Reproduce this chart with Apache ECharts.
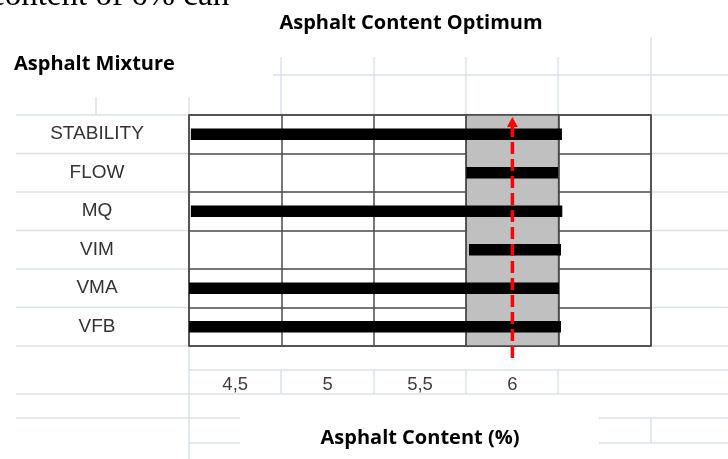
<!DOCTYPE html>
<html><head><meta charset="utf-8">
<script src="https://cdn.jsdelivr.net/npm/echarts@6/dist/echarts.min.js"></script>
<style>html,body{margin:0;padding:0;background:#fff}#c{width:728px;height:459px}</style>
</head><body><div id="c"></div>
<script>
// ---- data ----
const categories = ['STABILITY', 'FLOW', 'MQ', 'VIM', 'VMA', 'VFB'];
const rangeStart = [4.26, 5.75, 4.26, 5.765, 4.25, 4.25];
const rangeEnd   = [6.268, 6.247, 6.27, 6.263, 6.252, 6.263];
const tickLabels = ['4,5', '5', '5,5', '6', ''];
const optimumContent = 6.0;
const optimumBand = [5.75, 6.25];
const axisMin = 4.25, axisMax = 6.75, axisStep = 0.5;

// ---- decoration ----
const bg = '#dbe1ec';
function L(x1, y1, x2, y2) {
  return { type: 'line', z: -5, silent: true, shape: { x1, y1, x2, y2 }, style: { stroke: bg, lineWidth: 1.5 } };
}
const rowYs = [115, 153.5, 192, 230.5, 269, 307.5, 346];
const bgLines = [
  L(273, 75, 728, 75),
  L(189, 370, 728, 370),
  L(16, 394, 728, 394),
  L(16, 418, 240, 418), L(599, 418, 728, 418),
  L(189, 443, 240, 443), L(599, 443, 728, 443),
  L(96, 97, 96, 115), L(189, 97, 189, 115), L(189, 346, 189, 459),
  L(281, 57, 281, 115), L(374, 57, 374, 115), L(466, 57, 466, 115), L(558, 57, 558, 115),
  L(651, 37, 651, 115),
  L(281, 370, 281, 394), L(374, 370, 374, 394), L(466, 370, 466, 394), L(558, 370, 558, 394),
  L(651, 418, 651, 443)
];
rowYs.forEach(y => { bgLines.push(L(16, y, 189, y)); bgLines.push(L(651, y, 728, y)); });

const dark = '#4a4a4a';
const chart = echarts.init(document.getElementById('c'), null, { renderer: 'canvas' });
chart.setOption({
  animation: false,
  backgroundColor: '#fff',
  grid: { left: 189, top: 115, width: 462, height: 231, show: true, borderColor: dark, borderWidth: 1.5, backgroundColor: 'transparent' },
  xAxis: [
    { type: 'value', min: axisMin, max: axisMax, interval: axisStep,
      axisLine: { show: false }, axisTick: { show: false }, axisLabel: { show: false },
      splitLine: { show: true, lineStyle: { color: dark, width: 1.5 } } },
    { type: 'category', data: tickLabels, position: 'bottom', boundaryGap: true,
      axisLine: { show: false }, axisTick: { show: false }, splitLine: { show: false },
      axisLabel: { margin: 29, fontSize: 18.5, color: '#404040', fontFamily: '"Liberation Sans", Arial, sans-serif' } }
  ],
  yAxis: {
    type: 'category', data: categories, inverse: true,
    axisLine: { show: false }, axisTick: { show: false },
    axisLabel: { margin: 92, align: 'center', fontSize: 19, color: '#333', fontFamily: '"Liberation Sans", Arial, sans-serif' },
    splitLine: { show: true, interval: 0, lineStyle: { color: dark, width: 1.5 } }
  },
  graphic: bgLines.concat([
    { type: 'text', x: -10, y: -3.5, silent: true, style: { text: 'content of 6% can', font: '33px "Liberation Serif", serif', fill: '#000', verticalAlign: 'middle', align: 'left' } },
    { type: 'text', x: 411, y: 23, silent: true, style: { text: 'Asphalt Content Optimum', font: 'bold 20px "Open Sans", sans-serif', fill: '#000', verticalAlign: 'middle', align: 'center' } },
    { type: 'text', x: 14, y: 64, silent: true, style: { text: 'Asphalt Mixture', font: 'bold 20px "Open Sans", sans-serif', fill: '#000', verticalAlign: 'middle', align: 'left' } },
    { type: 'text', x: 420, y: 438, silent: true, style: { text: 'Asphalt Content (%)', font: 'bold 20px "Open Sans", sans-serif', fill: '#000', verticalAlign: 'middle', align: 'center' } }
  ]),
  series: [
    { type: 'custom', name: 'band', xAxisIndex: 0, yAxisIndex: 0, z: 1,
      data: [], renderItem: () => null,
      markArea: { silent: true, itemStyle: { color: '#c0c0c0', borderColor: dark, borderWidth: 1.5 },
        data: [[{ xAxis: optimumBand[0] }, { xAxis: optimumBand[1] }]] } },
    { type: 'custom', name: 'ranges', xAxisIndex: 0, yAxisIndex: 0, z: 5,
      data: categories.map((c, i) => [rangeStart[i], rangeEnd[i], i]),
      encode: { x: [0, 1], y: 2 },
      renderItem(params, api) {
        const yi = api.value(2);
        const p0 = api.coord([api.value(0), yi]);
        const p1 = api.coord([api.value(1), yi]);
        const h = 11.5;
        return { type: 'rect', shape: { x: p0[0], y: p0[1] - h / 2, width: p1[0] - p0[0], height: h }, style: { fill: '#000' } };
      } },
    { type: 'custom', name: 'optimum', xAxisIndex: 0, yAxisIndex: 0, z: 10, clip: false,
      data: [[optimumContent, 0]],
      encode: { x: 0, y: 1 },
      renderItem(params, api) {
        const v = api.value(0);
        const pTop = api.coord([v, 0]);
        const pBot = api.coord([v, categories.length - 1]);
        const band = api.size([0, 1])[1];
        const x = pTop[0];
        const yTop = pTop[1] - band / 2;
        const yBot = pBot[1] + band / 2;
        return { type: 'group', children: [
          { type: 'line', shape: { x1: x, y1: yBot + 12, x2: x, y2: yTop + 10 }, style: { stroke: '#ff0000', lineWidth: 3.5, lineDash: [12, 5] } },
          { type: 'polygon', shape: { points: [[x, yTop + 2], [x - 5.5, yTop + 12], [x + 5.5, yTop + 12]] }, style: { fill: '#ff0000' } }
        ] };
      } }
  ]
});
</script>
</body></html>
